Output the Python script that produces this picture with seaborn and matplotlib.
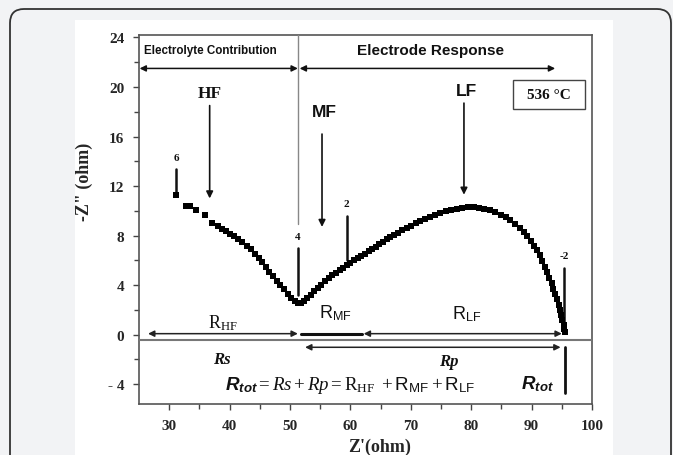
import numpy as np
import pandas as pd
import matplotlib
matplotlib.use("Agg")
import matplotlib.pyplot as plt
import seaborn as sns
from matplotlib.patches import FancyBboxPatch, Rectangle
from matplotlib.transforms import IdentityTransform

# ---------------- data ----------------
z_real = [31.1, 32.8, 33.5, 34.5, 35.9, 37.1, 38.0, 38.7, 39.4, 40.1, 40.8, 41.4,
          42.1, 42.8, 43.5, 44.2, 44.8, 45.4, 46.0, 46.6, 47.2, 47.8, 48.4, 49.0,
          49.6, 50.2, 50.8, 51.3, 51.8, 52.3, 52.8, 53.4, 54.0, 54.6, 55.2, 55.8,
          56.4, 57.0, 57.6, 58.2, 58.8, 59.4, 60.0, 60.6, 61.2, 61.8, 62.4, 63.0,
          63.6, 64.2, 64.8, 65.4, 66.0, 66.6, 67.2, 67.9, 68.6, 69.3, 70.0, 70.8,
          71.6, 72.4, 73.2, 74.0, 74.9, 75.8, 76.7, 77.6, 78.5, 79.4, 80.4, 81.3,
          82.2, 83.1, 84.0, 84.9, 85.7, 86.5, 87.3, 88.0, 88.7, 89.3, 89.9, 90.4,
          90.9, 91.4, 91.8, 92.2, 92.6, 92.9, 93.3, 93.6, 93.9, 94.2, 94.5, 94.7,
          94.9, 95.1, 95.3, 95.4, 95.5]
z_imag = [11.3, 10.4, 10.4, 10.1, 9.7, 9.0, 8.75, 8.55, 8.35, 8.15, 7.95, 7.75,
          7.5, 7.2, 6.9, 6.55, 6.2, 5.85, 5.45, 5.05, 4.7, 4.35, 4.0, 3.65,
          3.3, 3.0, 2.7, 2.55, 2.55, 2.7, 2.95, 3.2, 3.5, 3.8, 4.05, 4.3,
          4.55, 4.8, 5.0, 5.2, 5.4, 5.6, 5.8, 6.0, 6.2, 6.35, 6.55, 6.75,
          6.95, 7.1, 7.3, 7.5, 7.7, 7.85, 8.05, 8.25, 8.45, 8.65, 8.8, 9.0,
          9.15, 9.35, 9.5, 9.65, 9.8, 9.95, 10.05, 10.15, 10.25, 10.3, 10.3, 10.25,
          10.15, 10.05, 9.9, 9.7, 9.5, 9.25, 8.95, 8.65, 8.3, 7.95, 7.6, 7.2,
          6.8, 6.4, 5.95, 5.5, 5.05, 4.6, 4.15, 3.7, 3.3, 2.85, 2.4, 2.0,
          1.6, 1.2, 0.8, 0.45, 0.2]

x_ticks = [30, 40, 50, 60, 70, 80, 90, 100]
y_ticks = [-4, 0, 4, 8, 12, 16, 20, 24]
y_tick_labels = ["- 4", "0", "4", "8", "12", "16", "20", "24"]

# frequency decade markers: (x, y_top, y_bottom, label)
decade_x = [31.2, 51.3, 59.4, 95.4]
decade_top = [13.35, 7.0, 9.6, 5.4]
decade_bottom = [11.3, 3.2, 6.0, 0.3]
decade_labels = ["6", "4", "2", "-2"]

# characteristic frequency arrows
freq_names = ["HF", "MF", "LF"]
freq_x = [36.7, 55.3, 78.8]
freq_top = [18.5, 16.2, 18.7]
freq_bottom = [11.0, 8.7, 11.3]

# resistance boundaries
r_start, r_s, r_mf_end, r_end = 26.5, 51.3, 62.0, 95.0

df = pd.DataFrame({"Zre": z_real, "Zim": z_imag})

# ---------------- style ----------------
sns.set_style("ticks")
plt.rcParams["font.family"] = ["Liberation Serif", "DejaVu Serif"]
plt.rcParams["mathtext.fontset"] = "custom"
plt.rcParams["mathtext.rm"] = "Liberation Serif"
plt.rcParams["mathtext.it"] = "Liberation Serif:italic"
plt.rcParams["mathtext.bf"] = "Liberation Serif:bold"
plt.rcParams["mathtext.sf"] = "Liberation Sans"
plt.rcParams["mathtext.bfit"] = "Liberation Sans:italic:bold"

W, H = 673, 456
fig = plt.figure(figsize=(W / 100, H / 100), dpi=100)
fig.patch.set_facecolor("#f2f3f5")

# outer rounded frame and inner white panel
frame = FancyBboxPatch((10, -30), 661, 446 + 30, boxstyle="round,pad=0,rounding_size=14",
                       transform=IdentityTransform(), fc="#f2f3f5", ec="#333333", lw=1.3,
                       zorder=-3)
fig.add_artist(frame)
panel = Rectangle((75, 0), 613 - 75, H - 21, transform=IdentityTransform(),
                  fc="white", ec="none", zorder=-2)
fig.add_artist(panel)

ax = fig.add_axes([139 / W, 1 - 405 / H, (592 - 139) / W, (405 - 36) / H])
ax.set_facecolor("white")

sns.scatterplot(data=df, x="Zre", y="Zim", marker="s", s=22, color="black",
                linewidth=0, ax=ax, zorder=5)

ax.set_xlim(25, 100)
ax.set_ylim(-5.6, 24.2)
ax.set_xticks(x_ticks)
ax.set_xticks(np.arange(35, 100, 10), minor=True)
ax.set_yticks(y_ticks)
ax.set_yticklabels(y_tick_labels)
ax.set_yticks(np.arange(-2, 24, 4), minor=True)
ax.tick_params(which="major", direction="out", length=4.5, width=1, color="#444",
               labelsize=11, pad=6)
ax.tick_params(which="minor", direction="out", length=3.5, width=1, color="#444")
for lab in ax.get_xticklabels() + ax.get_yticklabels():
    lab.set_fontweight("bold")
for sp in ax.spines.values():
    sp.set_color("#555555")
    sp.set_linewidth(1.2)

ax.set_xlabel("Z'(ohm)", fontsize=13, fontweight="bold")
ax.set_ylabel('-Z" (ohm)', fontsize=13, fontweight="bold")
ax.xaxis.set_label_coords((380 - 139) / 453, -(439 - 405) / 369)
ax.yaxis.set_label_coords(-(139 - 93) / 453, (405 - 181.5) / 369)

sans = "Liberation Sans"
dark = "#111111"

# top region: contributions
ax.text(25.8, 23.0, "Electrolyte Contribution", family=sans, fontweight="bold",
        fontsize=8.4, ha="left", va="center", color=dark)
ax.text(73.3, 23.0, "Electrode Response", family=sans, fontweight="bold",
        fontsize=11, ha="center", va="center", color=dark)
arw = dict(arrowstyle="<|-|>", color=dark, lw=1.1, mutation_scale=9, shrinkA=0, shrinkB=0)
ax.annotate("", xy=(r_s, 21.5), xytext=(25.1, 21.5), arrowprops=arw)
ax.annotate("", xy=(93.9, 21.5), xytext=(51.6, 21.5), arrowprops=arw)
ax.plot([r_s, r_s], [24.2, 8.9], color="#888888", lw=1.0, zorder=3)

# temperature box
ax.add_patch(Rectangle((87.0, 18.26), 11.8, 2.29, fc="white", ec="#444444", lw=1.0, zorder=4))
ax.text(92.9, 19.4, "536 °C", fontsize=11, fontweight="bold", ha="center", va="center",
        color=dark, zorder=6)

# frequency arrows
down = dict(arrowstyle="-|>", color=dark, lw=1.2, mutation_scale=10, shrinkA=0, shrinkB=0)
freq_fonts = ["Liberation Serif", sans, sans]
freq_label_y = [19.5, 18.0, 19.7]
for name, fx, ft, fb, ff, ly in zip(freq_names, freq_x, freq_top, freq_bottom, freq_fonts,
                                    freq_label_y):
    ax.annotate("", xy=(fx, fb), xytext=(fx, ft), arrowprops=down)
    ax.text(fx + (0 if name == "HF" else 0.4), ly, name, family=ff, fontweight="bold",
            fontsize=12.5, ha="center", va="center", color=dark)

# decade markers
for dx, dt, db, dl in zip(decade_x, decade_top, decade_bottom, decade_labels):
    ax.plot([dx, dx], [dt, db], color=dark, lw=1.8, zorder=4)
    ax.text(dx, dt + 0.6, dl, fontsize=8, fontweight="bold", ha="center", va="bottom",
            color=dark)

# bottom region: resistances
ax.axhline(-0.47, color="#777777", lw=1.5, zorder=3)
arw2 = dict(arrowstyle="<|-|>", color="#222222", lw=1.1, mutation_scale=9, shrinkA=0, shrinkB=0)
ax.annotate("", xy=(r_s, 0.08), xytext=(r_start, 0.08), arrowprops=arw2)
ax.plot([51.9, r_mf_end], [0.08, 0.08], color=dark, lw=2.2, zorder=3)
ax.annotate("", xy=(r_end, 0.08), xytext=(r_mf_end + 0.2, 0.08), arrowprops=arw2)
ax.annotate("", xy=(94.8, -1.02), xytext=(52.5, -1.02), arrowprops=arw2)
ax.plot([95.5, 95.5], [-1.0, -4.7], color=dark, lw=2.0, zorder=4)

ax.text(38.9, 1.0, r"$\mathrm{R}_{\mathrm{HF}}$", fontsize=13, ha="center", va="center",
        color=dark)
ax.text(57.5, 1.8, r"$\mathsf{R}_{\mathsf{MF}}$", fontsize=13, ha="center", va="center",
        color=dark)
ax.text(79.3, 1.7, r"$\mathsf{R}_{\mathsf{LF}}$", fontsize=13, ha="center", va="center",
        color=dark)
ax.text(38.7, -2.0, "Rs", fontsize=12, style="italic", fontweight="bold", ha="center",
        va="center", color=dark)
ax.text(76.3, -2.15, "Rp", fontsize=12, style="italic", fontweight="bold", ha="center",
        va="center", color=dark)
ax.text(39.3, -4.0,
        r"$\mathbfit{R}_{\mathbfit{tot}} = \mathit{Rs} + \mathit{Rp} = "
        r"\mathrm{R}_{\mathrm{HF}}\ +\mathsf{R}_{\mathsf{MF}} + \mathsf{R}_{\mathsf{LF}}$",
        fontsize=13.6, ha="left", va="center", color=dark)
ax.text(91.0, -3.9, r"$\mathbfit{R}_{\mathbfit{tot}}$", fontsize=13.5, ha="center",
        va="center", color=dark)

fig.savefig("out.png", dpi=100, facecolor=fig.get_facecolor())
